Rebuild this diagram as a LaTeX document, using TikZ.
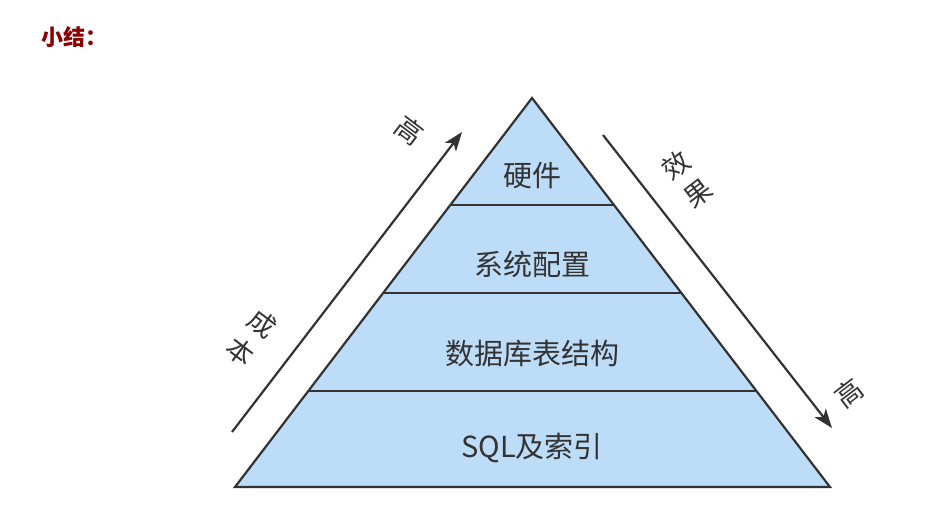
\documentclass[tikz,border=0pt]{standalone}
\usepackage{fontspec}
\setmainfont{Noto Sans CJK SC}
\usepackage{xcolor}
\usepackage{tikz}
\usetikzlibrary{calc,arrows.meta}

\definecolor{layerblue}{HTML}{BDDCF7}
\definecolor{inkgray}{HTML}{333333}
\definecolor{titlered}{HTML}{8B0000}

\begin{document}
\begin{tikzpicture}[x=1pt,y=-1pt]
                    \tikzstyle{every node}+=[inner sep=0pt, text=inkgray]
                    \tikzstyle{layer}=[font=\fontsize{29}{33}\selectfont]
                    \tikzstyle{side}=[font=\fontsize{27}{31}\selectfont]
                    \tikzstyle{edge}=[draw=inkgray, line width=2.2pt]
                    \tikzstyle{trend}=[draw=inkgray, line width=2.2pt, -{Stealth[length=19pt,width=14pt,inset=5pt]}]
                    \useasboundingbox (0,0) rectangle (942,508);
                    % title
                    \node [anchor=west, text=titlered, font=\fontsize{22}{26}\selectfont\bfseries] (title) at (41,37) {小结：};
                    % pyramid
                    \coordinate (apex) at (532,98);
                    \coordinate (bl) at (235,487);
                    \coordinate (br) at (830,487);
                    \fill [layerblue] (apex) -- (bl) -- (br) -- cycle;
                    \draw [edge, line join=miter] (apex) -- (bl) -- (br) -- cycle;
                    \draw [edge] ($(apex)!0.275!(bl)$) -- ($(apex)!0.275!(br)$);
                    \draw [edge] ($(apex)!0.501!(bl)$) -- ($(apex)!0.501!(br)$);
                    \draw [edge] ($(apex)!0.753!(bl)$) -- ($(apex)!0.753!(br)$);
                    \node [layer] (hw) at (532,176) {硬件};
                    \node [layer] (conf) at (532,264) {系统配置};
                    \node [layer] (tbl) at (532,354) {数据库表结构};
                    \node [layer] (sql) at (532,448) {SQL及索引};
                    % cost arrow
                    \coordinate (costlo) at (232,432);
                    \coordinate (costhi) at (462,132);
                    \draw [trend] (costlo) -- (costhi);
                    \node [side, rotate=-37.3] (cost1) at (262,324) {成};
                    \node [side, rotate=-37.3] (cost2) at (240,352) {本};
                    \node [side, rotate=-37.3] (costtop) at (409,130) {高};
                    % effect arrow
                    \coordinate (effhi) at (603,135);
                    \coordinate (efflo) at (832,428);
                    \draw [trend] (effhi) -- (efflo);
                    \node [side, rotate=37.3] (eff1) at (676,165) {效};
                    \node [side, rotate=37.3] (eff2) at (698,194) {果};
                    \node [side, rotate=37.3] (effbot) at (849,393) {高};
\end{tikzpicture}
\end{document}
